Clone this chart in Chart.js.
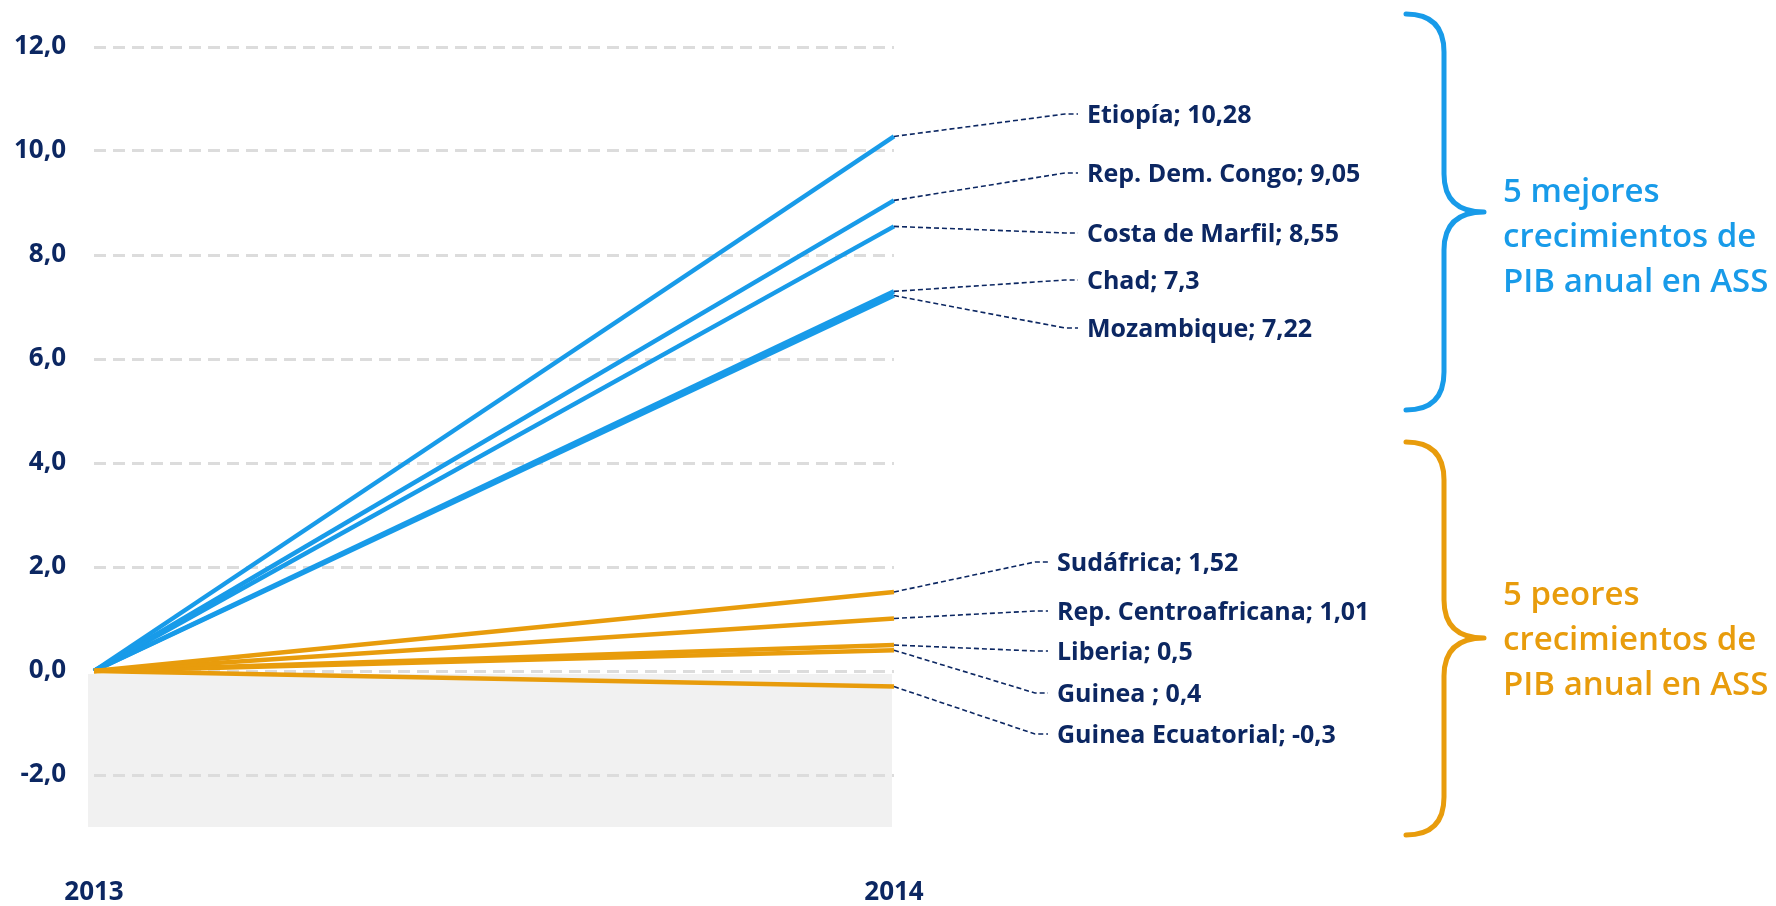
<!DOCTYPE html>
<html>
<head>
<meta charset="utf-8">
<script src="https://cdn.jsdelivr.net/npm/chart.js@4.4.0/dist/chart.umd.min.js"></script>
<style>
  html, body { margin: 0; padding: 0; background: #fff; }
</style>
</head>
<body>
<canvas id="growthChart" width="1776" height="906"></canvas>
<script>
// data
const years = ["2013", "2014"];
const bestCountries = ["Etiopía", "Rep. Dem. Congo", "Costa de Marfil", "Chad", "Mozambique"];
const bestValues = [10.28, 9.05, 8.55, 7.3, 7.22];
const worstCountries = ["Sudáfrica", "Rep. Centroafricana", "Liberia", "Guinea ", "Guinea Ecuatorial"];
const worstValues = [1.52, 1.01, 0.5, 0.4, -0.3];
const yTicks = [-2, 0, 2, 4, 6, 8, 10, 12];
const bestTitle = ["5 mejores", "crecimientos de", "PIB anual en ASS"];
const worstTitle = ["5 peores", "crecimientos de", "PIB anual en ASS"];

// layout of the annotations (pixels)
const bestLabelBase = [123, 182, 242, 289, 337];
const worstLabelBase = [571, 620, 660, 702, 743];
const bestTitleBase = [202, 247, 292];
const worstTitleBase = [605, 650, 695];

const blue = "#189be9";
const orange = "#e89c0c";
const navy = "#0c2762";

const fmt = v => String(v).replace(".", ",");

Chart.defaults.font.family = '"Open Sans", sans-serif';

function makeSet(name, value, color) {
  return {
    label: name,
    data: [0, value],
    borderColor: color,
    backgroundColor: color,
    borderWidth: 4.5,
    pointRadius: 0,
    tension: 0
  };
}

const datasets = [];
worstCountries.forEach((c, i) => datasets.push(makeSet(c, worstValues[i], orange)));
bestCountries.forEach((c, i) => datasets.push(makeSet(c, bestValues[i], blue)));

function drawBrace(ctx, top, mid, bottom, color) {
  const tipX = 1406, stemX = 1444, midX = 1484, r = 38;
  ctx.save();
  ctx.strokeStyle = color;
  ctx.lineWidth = 5;
  ctx.lineCap = "round";
  ctx.lineJoin = "round";
  ctx.beginPath();
  ctx.moveTo(tipX, top);
  ctx.quadraticCurveTo(stemX, top, stemX, top + r);
  ctx.lineTo(stemX, mid - r);
  ctx.quadraticCurveTo(stemX, mid, midX, mid);
  ctx.quadraticCurveTo(stemX, mid, stemX, mid + r);
  ctx.lineTo(stemX, bottom - r);
  ctx.quadraticCurveTo(stemX, bottom, tipX, bottom);
  ctx.stroke();
  ctx.restore();
}

const decorations = {
  id: "decorations",
  beforeDraw(chart) {
    const ctx = chart.ctx;
    const x = chart.scales.x, y = chart.scales.y;
    ctx.save();
    ctx.fillStyle = "#fff";
    ctx.fillRect(0, 0, chart.width, chart.height);
    // shaded negative zone
    const top = y.getPixelForValue(0) + 3;
    const bottom = y.getPixelForValue(-3);
    ctx.fillStyle = "#f1f1f1";
    ctx.fillRect(x.left - 6, top, x.right - x.left + 4, bottom - top);
    ctx.restore();
  },
  afterDatasetsDraw(chart) {
    const ctx = chart.ctx;
    const x = chart.scales.x, y = chart.scales.y;
    const endX = x.getPixelForValue(1);

    function labels(names, values, bases, textX) {
      names.forEach((n, i) => {
        const sy = y.getPixelForValue(values[i]);
        const ly = bases[i] - 9;
        ctx.save();
        ctx.strokeStyle = navy;
        ctx.lineWidth = 1.6;
        ctx.setLineDash([5, 3]);
        ctx.beginPath();
        ctx.moveTo(endX, sy);
        ctx.lineTo(textX - 22, ly);
        ctx.lineTo(textX - 9, ly);
        ctx.stroke();
        ctx.restore();
        ctx.save();
        ctx.fillStyle = navy;
        ctx.font = 'bold 25px "Open Sans"';
        ctx.textBaseline = "alphabetic";
        ctx.fillText(n + "; " + fmt(values[i]), textX, bases[i]);
        ctx.restore();
      });
    }
    labels(bestCountries, bestValues, bestLabelBase, 1087);
    labels(worstCountries, worstValues, worstLabelBase, 1057);

    drawBrace(ctx, 14, 212, 410, blue);
    drawBrace(ctx, 442, 638, 835, orange);

    ctx.save();
    ctx.font = '600 33px "Open Sans"';
    ctx.textBaseline = "alphabetic";
    ctx.fillStyle = blue;
    bestTitle.forEach((t, i) => ctx.fillText(t, 1503, bestTitleBase[i]));
    ctx.fillStyle = orange;
    worstTitle.forEach((t, i) => ctx.fillText(t, 1503, worstTitleBase[i]));
    ctx.restore();
  }
};

new Chart("growthChart", {
  type: "line",
  data: { labels: years, datasets: datasets },
  options: {
    responsive: false,
    animation: false,
    layout: { padding: { left: 0, right: 882, top: 47, bottom: 0 } },
    plugins: { legend: { display: false }, tooltip: { enabled: false } },
    scales: {
      x: {
        offset: false,
        grid: { display: false, drawTicks: false },
        border: { display: false },
        ticks: { color: navy, font: { size: 26, weight: "bold" }, padding: 50, maxRotation: 0 },
        afterFit: s => { s.height = 79; }
      },
      y: {
        min: -3,
        max: 12,
        afterBuildTicks: s => { s.ticks = yTicks.map(v => ({ value: v })); },
        grid: { color: "#dcdcdc", lineWidth: 3, drawTicks: false },
        border: { display: false, dash: [12, 7] },
        ticks: {
          color: navy,
          font: { size: 26, weight: "bold" },
          padding: 28,
          callback: v => v.toFixed(1).replace(".", ",")
        },
        afterFit: s => { s.width = 94; }
      }
    }
  },
  plugins: [decorations]
});
</script>
</body>
</html>
